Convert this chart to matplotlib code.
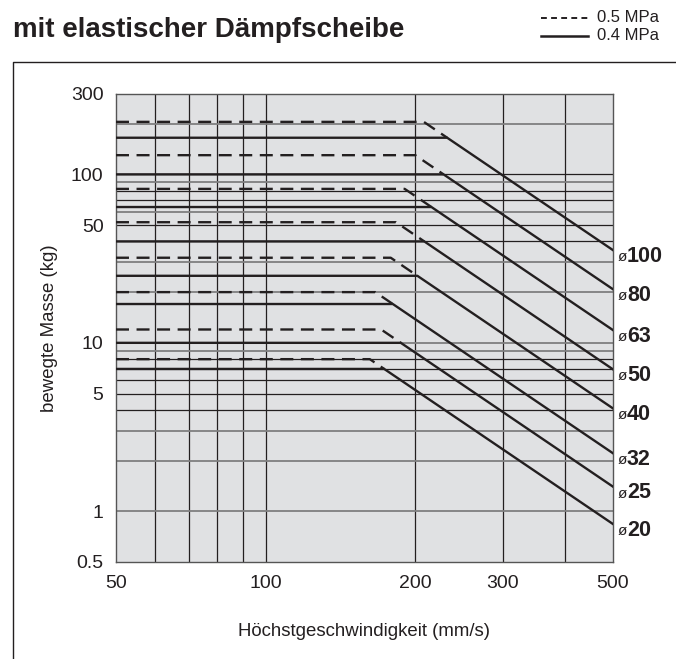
import numpy as np
import matplotlib
matplotlib.use("Agg")
import matplotlib.pyplot as plt
from matplotlib.ticker import FixedLocator, FixedFormatter, NullLocator

plt.rcParams['font.family'] = ['Liberation Sans', 'DejaVu Sans']

# bore sizes (mm) and the curves
bores = ['100', '80', '63', '50', '40', '32', '25', '20']
mass_05 = [205, 130, 82, 52, 32, 20, 12, 8]               # 0.5 MPa, horizontal part (kg)
mass_04 = [165, 100, 64, 40, 25, 17, 10, 7]               # 0.4 MPa, horizontal part (kg)
mass_at_500 = [35.5, 20.8, 11.9, 6.96, 4.08, 2.21, 1.40, 0.84]  # value at 500 mm/s on the energy line

x_ticks = [50, 100, 200, 300, 500]
y_ticks = [0.5, 1, 5, 10, 50, 100, 300]
y_ticklabels = ['0.5', '1', '5', '10', '50', '100', '300']
vgrid = [60, 70, 80, 90, 100, 200, 300, 400]
hgrid_dark = [4, 5, 6, 7, 8, 40, 50, 70, 80, 100]
hgrid_grey = [1, 2, 3, 9, 10, 20, 30, 60, 90, 200]

ink = '#231f20'

fig = plt.figure(figsize=(6.76, 6.59), dpi=100)
ax = fig.add_axes([116/676, 1-562/659, 497/676, 468/659])
ax.set_xscale('log')
ax.set_yscale('log')
ax.set_xlim(50, 500)
ax.set_ylim(0.5, 300)
ax.set_facecolor('#e0e1e3')

for v in vgrid:
  ax.axvline(v, color=ink, lw=0.9, zorder=1)
for m in hgrid_dark:
  ax.axhline(m, color=ink, lw=0.9, zorder=1)
for m in hgrid_grey:
  ax.axhline(m, color='#7f7f80', lw=1.3, zorder=1)

vmin, vmax = ax.get_xlim()
for i in range(len(bores)):
  # knee = where the horizontal level meets the constant-energy line (m ~ 1/v^2)
  k04 = vmax*np.sqrt(mass_at_500[i]/mass_04[i])
  k05 = vmax*np.sqrt(mass_at_500[i]/mass_05[i])
  ax.plot([vmin, k05, k04], [mass_05[i], mass_05[i], mass_04[i]],
          color=ink, lw=1.7, dashes=(5.5, 3.2), zorder=3)
  ax.plot([vmin, k04, vmax], [mass_04[i], mass_04[i], mass_at_500[i]],
          color=ink, lw=1.7, zorder=4, solid_joinstyle='round')
  ax.annotate('ø', xy=(vmax, mass_at_500[i]), xytext=(3, -5), textcoords='offset points',
              fontsize=11, va='center', ha='left', color=ink, annotation_clip=False)
  ax.annotate(bores[i], xy=(vmax, mass_at_500[i]), xytext=(10, -4.5), textcoords='offset points',
              fontsize=15.5, fontweight='bold', va='center', ha='left', color=ink,
              annotation_clip=False)

ax.xaxis.set_major_locator(FixedLocator(x_ticks))
ax.xaxis.set_major_formatter(FixedFormatter([str(t) for t in x_ticks]))
ax.xaxis.set_minor_locator(NullLocator())
ax.yaxis.set_major_locator(FixedLocator(y_ticks))
ax.yaxis.set_major_formatter(FixedFormatter(y_ticklabels))
ax.yaxis.set_minor_locator(NullLocator())
ax.tick_params(length=0, labelsize=14, colors=ink, pad=9)
for s in ax.spines.values():
  s.set_color('#555555')
  s.set_linewidth(1.0)

fig.text(50/676, 1-328/659, 'bewegte Masse (kg)', rotation=90, ha='center', va='center',
         fontsize=13.4, color=ink)
fig.text(364/676, 1-632/659, 'Höchstgeschwindigkeit (mm/s)', ha='center', va='center',
         fontsize=13.4, color=ink)
fig.text(13/676, 1-30/659, 'mit elastischer Dämpfscheibe', ha='left', va='center',
         fontsize=20, fontweight='bold', color=ink)

# legend in the top right corner
fig.add_artist(plt.Line2D([541/676, 588/676], [1-18/659, 1-18/659], color=ink,
               lw=1.4, dashes=(3, 2.2)))
fig.add_artist(plt.Line2D([541/676, 588/676], [1-36/659, 1-36/659], color=ink, lw=1.8))
fig.text(597/676, 1-18/659, '0.5 MPa', ha='left', va='center', fontsize=12, color=ink)
fig.text(597/676, 1-36/659, '0.4 MPa', ha='left', va='center', fontsize=12, color=ink)

# outer frame (open at right and bottom)
fig.add_artist(plt.Line2D([13/676, 13/676, 1.0], [0.0, 1-62/659, 1-62/659], color=ink, lw=1.0))

fig.savefig('out.png', dpi=100)
